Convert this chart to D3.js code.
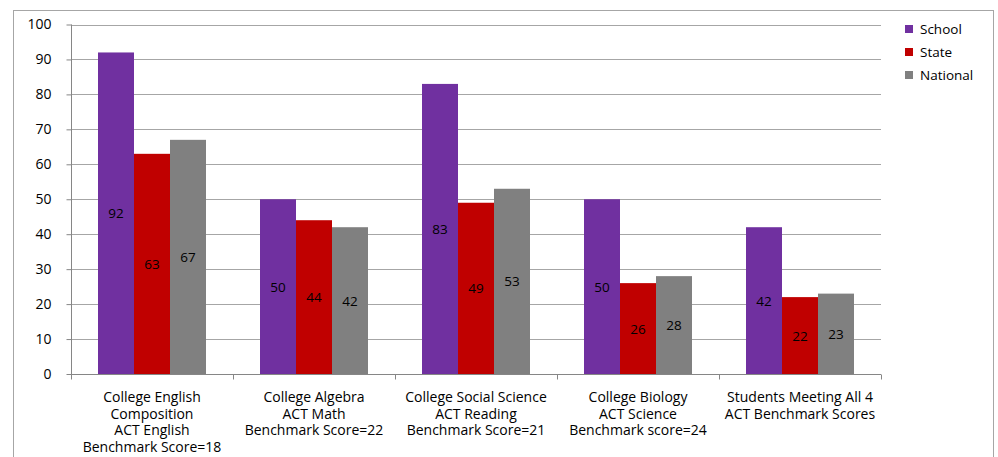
<!DOCTYPE html>
<html><head><meta charset="utf-8">
<script src="https://cdn.jsdelivr.net/npm/d3@7"></script>
<style>body{margin:0;background:#fff}svg{display:block}text{font-family:"Open Sans",sans-serif}</style>
</head><body><svg id="c" width="998" height="457"></svg>
<script>
const categories = [
  ["College English","Composition","ACT English","Benchmark Score=18"],
  ["College Algebra","ACT Math","Benchmark Score=22"],
  ["College Social Science","ACT Reading","Benchmark Score=21"],
  ["College Biology","ACT Science","Benchmark score=24"],
  ["Students Meeting All 4","ACT Benchmark  Scores"]
];
const seriesNames = ["School","State","National"];
const school = [92,50,83,50,42];
const state = [63,44,49,26,22];
const national = [67,42,53,28,23];
const yTicks = [0,10,20,30,40,50,60,70,80,90,100];
const colors = ["#7030A0","#C00000","#808080"];
const series = [school,state,national];

const svg = d3.select("#c");
svg.append("rect").attr("x",13.5).attr("y",10.5).attr("width",980).attr("height",470)
  .attr("fill","none").attr("stroke","#A6A6A6").attr("stroke-width",1);

const L=71, R=881, T=24.5, B=374;
const x0 = d3.scaleBand().domain(d3.range(categories.length)).range([L,R]).paddingInner(0).paddingOuter(0);
const x1 = d3.scaleBand().domain(d3.range(series.length)).range([x0.bandwidth()/6, x0.bandwidth()*5/6]);
const y = d3.scaleLinear().domain([0,100]).range([B,T]);

// gridlines
svg.append("g").selectAll("line").data(yTicks.filter(d=>d>0)).join("line")
  .attr("x1",L).attr("x2",R).attr("y1",d=>Math.round(y(d))+0.5).attr("y2",d=>Math.round(y(d))+0.5)
  .attr("stroke","#A6A6A6").attr("stroke-width",1);

// bars
const g = svg.append("g");
series.forEach((s,si)=>{
  g.selectAll(".b"+si).data(s).join("rect")
    .attr("x",(d,i)=>x0(i)+x1(si)).attr("width",x1.bandwidth())
    .attr("y",d=>y(d)).attr("height",d=>B-y(d)).attr("fill",colors[si]);
  g.selectAll(".t"+si).data(s).join("text")
    .attr("x",(d,i)=>x0(i)+x1(si)+x1.bandwidth()/2).attr("y",d=>(y(d)+B)/2)
    .attr("text-anchor","middle").attr("dominant-baseline","central")
    .attr("font-size",13.5).attr("fill","#000").text(d=>d);
});

// y axis
const ya = svg.append("g").attr("transform",`translate(${L+0.5},0)`)
  .call(d3.axisLeft(y).tickValues(yTicks).tickSize(5).tickPadding(15));
ya.select(".domain").attr("stroke","#868686").attr("d",`M-0,${T}V${B}`);
ya.selectAll(".tick line").attr("stroke","#868686");
ya.selectAll("text").attr("font-size",14).attr("fill","#000").attr("font-family","'Open Sans',sans-serif");

// x axis
const xa = svg.append("g").attr("transform",`translate(0,${B+0.5})`);
xa.append("line").attr("x1",L).attr("x2",R).attr("stroke","#868686");
xa.selectAll(".tk").data(d3.range(categories.length+1)).join("line")
  .attr("x1",i=>Math.round(L+i*x0.bandwidth())+0.5).attr("x2",i=>Math.round(L+i*x0.bandwidth())+0.5)
  .attr("y1",0).attr("y2",5).attr("stroke","#868686");
categories.forEach((lines,i)=>{
  const t = xa.append("text").attr("text-anchor","middle").attr("font-size",14).attr("fill","#000");
  lines.forEach((ln,j)=>{
    t.append("tspan").attr("x",x0(i)+x0.bandwidth()/2).attr("y",27.5+j*16.7).text(ln);
  });
});

// legend
const lg = svg.append("g");
seriesNames.forEach((n,i)=>{
  lg.append("rect").attr("x",905).attr("y",25+i*23).attr("width",8).attr("height",8).attr("fill",colors[i]);
  lg.append("text").attr("x",920).attr("y",29+i*23).attr("dominant-baseline","central")
    .attr("font-size",13.5).attr("fill","#000").text(n);
});
</script></body></html>
